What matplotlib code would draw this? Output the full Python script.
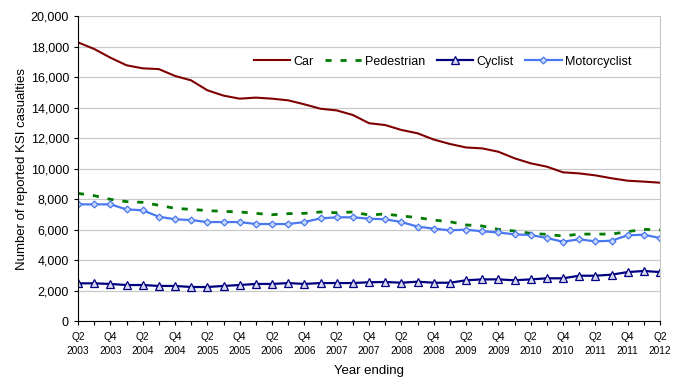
import matplotlib
matplotlib.use('Agg')
import matplotlib.pyplot as plt
import numpy as np

plt.rcParams['font.family'] = ['Liberation Sans', 'DejaVu Sans']

# quarterly, year ending Q2 2003 .. Q2 2012
quarters = ['Q2\n2003', 'Q3\n2003', 'Q4\n2003', 'Q1\n2004', 'Q2\n2004', 'Q3\n2004', 'Q4\n2004',
            'Q1\n2005', 'Q2\n2005', 'Q3\n2005', 'Q4\n2005', 'Q1\n2006', 'Q2\n2006', 'Q3\n2006',
            'Q4\n2006', 'Q1\n2007', 'Q2\n2007', 'Q3\n2007', 'Q4\n2007', 'Q1\n2008', 'Q2\n2008',
            'Q3\n2008', 'Q4\n2008', 'Q1\n2009', 'Q2\n2009', 'Q3\n2009', 'Q4\n2009', 'Q1\n2010',
            'Q2\n2010', 'Q3\n2010', 'Q4\n2010', 'Q1\n2011', 'Q2\n2011', 'Q3\n2011', 'Q4\n2011',
            'Q1\n2012', 'Q2\n2012']

car = [18270, 17840, 17270, 16770, 16570, 16520, 16070, 15780, 15130, 14780,
       14580, 14650, 14580, 14470, 14210, 13920, 13810, 13510, 12970, 12850,
       12530, 12310, 11900, 11610, 11380, 11320, 11100, 10670, 10340, 10120,
       9750, 9680, 9550, 9360, 9200, 9140, 9070]
pedestrian = [8370, 8220, 7980, 7830, 7780, 7590, 7390, 7320, 7240, 7190,
              7150, 7060, 6970, 7040, 7060, 7150, 7100, 7150, 6950, 7020,
              6890, 6780, 6620, 6510, 6300, 6230, 6010, 5900, 5750, 5680,
              5570, 5700, 5700, 5700, 5860, 6010, 5970]
cyclist = [2470, 2470, 2430, 2360, 2360, 2300, 2300, 2230, 2230, 2300,
           2360, 2430, 2430, 2490, 2430, 2490, 2490, 2490, 2540, 2560,
           2510, 2580, 2510, 2510, 2670, 2730, 2730, 2670, 2730, 2800,
           2800, 2970, 2970, 3040, 3210, 3280, 3210]
motorcyclist = [7650, 7650, 7650, 7320, 7260, 6840, 6670, 6620, 6490, 6490,
                6490, 6360, 6360, 6360, 6490, 6730, 6800, 6800, 6710, 6670,
                6490, 6190, 6060, 5950, 5990, 5880, 5810, 5680, 5640, 5440,
                5200, 5360, 5220, 5270, 5620, 5660, 5440]

x = np.arange(len(quarters))

fig = plt.figure(figsize=(6.89, 3.85), dpi=100)
ax = fig.add_axes([0.1132, 0.1662, 0.8448, 0.7922])

ax.plot(x, car, color='#7f0000', lw=1.5, label='Car')
ax.plot(x, pedestrian, color='#007a00', lw=2, ls=(0, (2.2, 3.2)), label='Pedestrian')
ax.plot(x, cyclist, color='#000080', lw=1.6, marker='^', ms=5.5,
        mfc='#d8d8f0', mec='#000080', mew=0.9, label='Cyclist')
ax.plot(x, motorcyclist, color='#4a78f0', lw=1.6, marker='D', ms=3.5,
        mfc='#c8d6fa', mec='#4a78f0', mew=0.9, label='Motorcyclist')

ax.set_xlim(0, len(quarters) - 1)
ax.set_ylim(0, 20000)
ax.set_yticks(np.arange(0, 20001, 2000))
ax.set_yticklabels(['{:,}'.format(v) for v in range(0, 20001, 2000)], fontsize=9)
ax.set_xticks(x)
ax.set_xticklabels([q if i % 2 == 0 else '' for i, q in enumerate(quarters)],
                   fontsize=7.3, linespacing=1.45)
ax.tick_params(axis='both', direction='out', length=3, width=0.8, color='black')
ax.tick_params(axis='x', pad=5)

ax.grid(axis='y', color='#c8c8c8', lw=0.9)
ax.set_axisbelow(True)
ax.spines['top'].set_visible(False)
ax.spines['right'].set_color('#c8c8c8')
ax.spines['left'].set_color('black')
ax.spines['bottom'].set_color('black')

ax.set_ylabel('Number of reported KSI casualties', fontsize=9.5, labelpad=2)
ax.set_xlabel('Year ending', fontsize=9.5, labelpad=7)

ax.legend(loc='center left', bbox_to_anchor=(0.302, 0.85), ncol=4, frameon=False,
          fontsize=9, handlelength=2.9, handletextpad=0.3, columnspacing=0.9,
          borderpad=0, borderaxespad=0)

plt.savefig('out.png', dpi=100)
